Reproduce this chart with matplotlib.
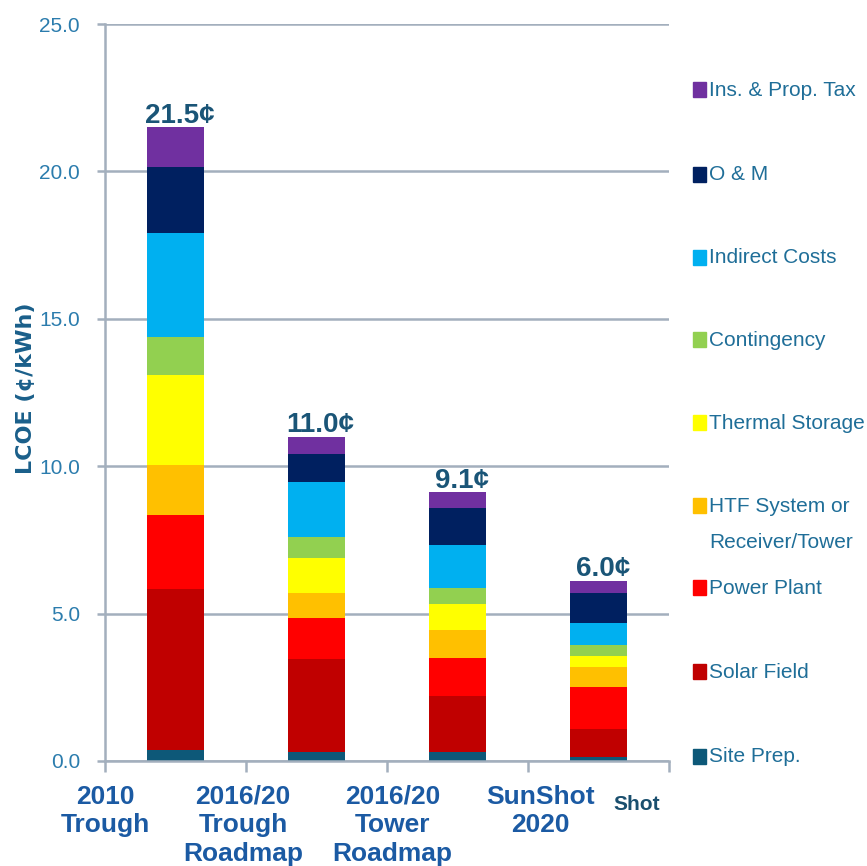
import matplotlib
matplotlib.use("Agg")
import matplotlib.pyplot as plt
from matplotlib.patches import Rectangle
import numpy as np

# data (cents/kWh), bottom to top
categories = ["2010\nTrough", "2016/20\nTrough\nRoadmap", "2016/20\nTower\nRoadmap", "SunShot\n2020"]
components = ["Site Prep.", "Solar Field", "Power Plant", "HTF System or\nReceiver/Tower",
              "Thermal Storage", "Contingency", "Indirect Costs", "O & M", "Ins. & Prop. Tax"]
site_prep   = [0.37, 0.32, 0.32, 0.15]
solar_field = [5.47, 3.13, 1.89, 0.93]
power_plant = [2.51, 1.39, 1.27, 1.44]
htf_system  = [1.69, 0.85, 0.98, 0.68]
thermal     = [3.06, 1.20, 0.87, 0.36]
contingency = [1.27, 0.71, 0.55, 0.38]
indirect    = [3.53, 1.87, 1.44, 0.75]
om          = [2.25, 0.95, 1.25, 1.00]
ins_tax     = [1.35, 0.58, 0.55, 0.42]
totals = [21.5, 11.0, 9.1, 6.0]
yticks = [0.0, 5.0, 10.0, 15.0, 20.0, 25.0]

series = [site_prep, solar_field, power_plant, htf_system, thermal,
          contingency, indirect, om, ins_tax]
colors = ["#0d5878", "#c00000", "#ff0000", "#ffc000", "#ffff00",
          "#92d050", "#00b0f0", "#002060", "#7030a0"]

sans = ["Liberation Sans", "DejaVu Sans"]
grid_c = "#a3afbd"
tick_c = "#2b7cad"
text_c = "#1f6e98"

fig = plt.figure(figsize=(8.67, 8.66), dpi=100)
ax = fig.add_axes([105/867, 1 - 761/866, 564/867, (761 - 24)/866])

x = np.arange(len(categories))
bottom = np.zeros(len(categories))
for vals, c in zip(series, colors):
    ax.bar(x, vals, width=0.40, bottom=bottom, color=c, zorder=3)
    bottom += np.array(vals)

for xi, top, t in zip(x, bottom, totals):
    ax.text(xi + 0.03, top - 0.05, f"{t:.1f}\u00a2", ha="center", va="bottom",
            fontsize=20, fontweight="bold", color="#1a5577", family=sans, zorder=4)

ax.set_yticks(yticks)
ax.set_yticklabels([f"{v:.1f}" for v in yticks], family=sans, fontsize=15, color=tick_c)
ax.yaxis.grid(True, color=grid_c, linewidth=1.8, zorder=0)
ax.tick_params(axis="y", length=6, width=1.8, color=grid_c, pad=12)

# tick marks between groups, labels a little left of the bars
ax.xaxis.remove_overlapping_locs = False
ax.set_xticks([-0.5, 0.5, 1.5, 2.5, 3.5])
ax.set_xticklabels([])
ax.tick_params(axis="x", which="major", length=8, width=1.8, color=grid_c)
ax.set_xticks([-0.5, 0.48, 1.54, 2.59], minor=True)
ax.set_xticklabels(categories, minor=True, fontsize=19, fontweight="bold", color="#1b5aa3",
                   family=sans, linespacing=1.25)
ax.tick_params(axis="x", which="minor", length=0, pad=17)
ax.set_xlim(-0.5, 3.5)
ax.set_ylim(0, 25)

for s in ["top", "right"]:
    ax.spines[s].set_visible(False)
for s in ["left", "bottom"]:
    ax.spines[s].set_color(grid_c)
    ax.spines[s].set_linewidth(1.8)
    ax.spines[s].set_zorder(5)

ax.set_ylabel("LCOE (\u00a2/kWh)", fontsize=16, fontweight="bold", color="#1a5f8a",
              family=["DejaVu Sans"])
ax.yaxis.set_label_coords(-0.122, 0.506)

# legend drawn by hand, top entry first
leg_y = [90, 175, 258, 340, 423, 506, 588, 672, 757]
for name, c, yp in zip(components[::-1], colors[::-1], leg_y):
    fig.patches.append(Rectangle((693/867, 1 - (yp + 7)/866), 13/867, 15/866,
                                 transform=fig.transFigure, color=c, figure=fig))
    fig.text(709/867, 1 - (yp - 9.5)/866, name, ha="left", va="top", fontsize=15,
             color=text_c, family=sans, linespacing=2.2)

fig.text(637/867, 1 - 805/866, "Shot", ha="center", va="center", fontsize=15,
         fontweight="bold", color="#1a4f6e", family=sans)

fig.savefig("out.png", dpi=100)
